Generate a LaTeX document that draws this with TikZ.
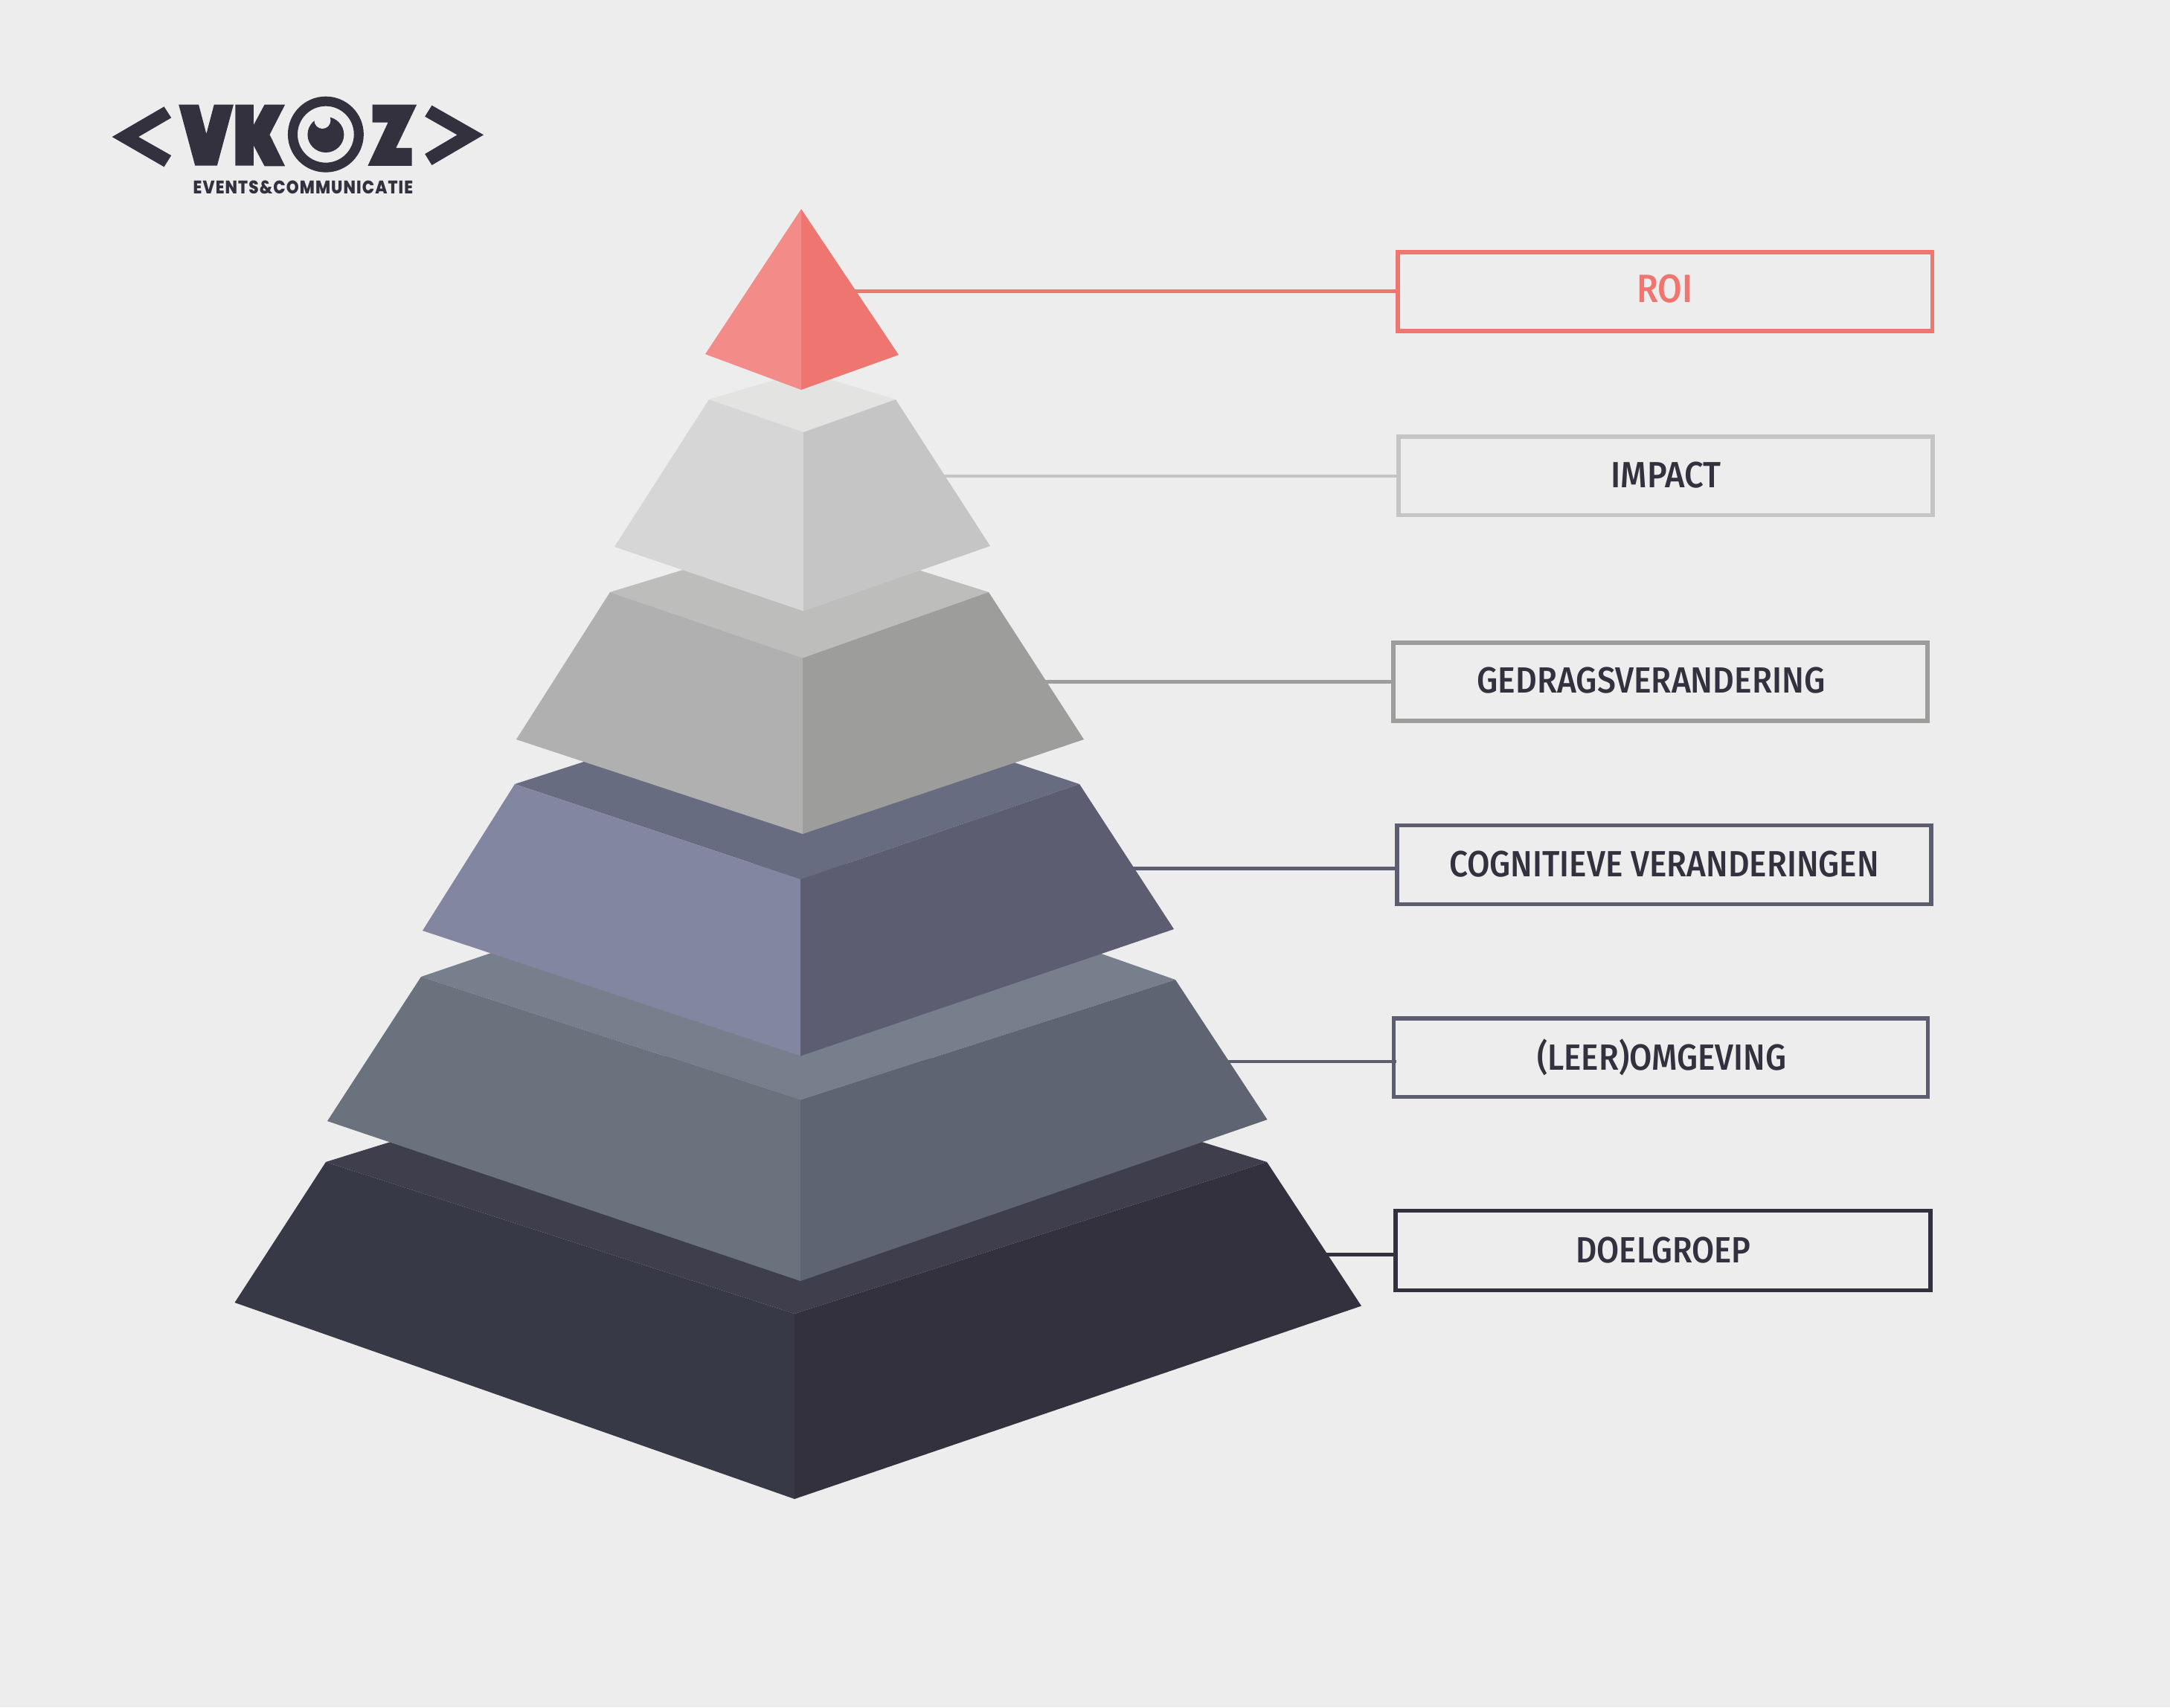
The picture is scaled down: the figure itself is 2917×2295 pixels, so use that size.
\documentclass[tikz,border=0pt]{standalone}
\usepackage{fontspec}
\usepackage{graphicx}
\newfontfamily\lblfont{Fira Sans Medium}
\newfontfamily\logofont{Poppins ExtraBold}[LetterSpace=5]
\definecolor{bgc}{HTML}{EDEDED}
\definecolor{ink}{HTML}{32313D}
\definecolor{roiL}{HTML}{F38B88}\definecolor{roiR}{HTML}{EF7571}
\definecolor{impT}{HTML}{E3E3E1}\definecolor{impL}{HTML}{D6D6D6}\definecolor{impR}{HTML}{C5C5C5}
\definecolor{gedT}{HTML}{BDBDBB}\definecolor{gedL}{HTML}{B0B0B0}\definecolor{gedR}{HTML}{9D9D9B}
\definecolor{cogT}{HTML}{686C80}\definecolor{cogL}{HTML}{8286A0}\definecolor{cogR}{HTML}{5D5D71}
\definecolor{envT}{HTML}{767F8B}\definecolor{envL}{HTML}{6A737D}\definecolor{envR}{HTML}{5F6472}
\definecolor{doeT}{HTML}{3E3E4D}\definecolor{doeL}{HTML}{383946}\definecolor{doeR}{HTML}{32313D}
\newcommand{\lbltext}[3][49]{\resizebox{#2pt}{\height}{\lblfont\fontsize{#1}{52}\selectfont #3}}
\tikzset{
  labelbox/.style={draw=#1,line width=5.5pt,fill=none,inner sep=0pt,outer sep=0pt,rectangle},
  labeltext/.style={anchor=base,inner sep=0pt,outer sep=0pt,text=ink},
  leader/.style={draw=#1,line width=4.5pt},
  logoshape/.style={fill=ink,draw=none}
}
\begin{document}
\begin{tikzpicture}[x=1pt,y=-1pt]
\useasboundingbox (0,0) rectangle (2917,2295);
\fill[bgc] (0,0) rectangle (2917,2295);

% boxes
\node[labelbox=roiR,minimum width=718.5pt,minimum height=106pt] (b1) at (2238.25,392) {};
\node[labelbox=impR,minimum width=718pt,minimum height=105.5pt] (b2) at (2239,639.75) {};
\node[labelbox=gedR,minimum width=718pt,minimum height=105pt] (b3) at (2232,916.5) {};
\node[labelbox=cogR,minimum width=718pt,minimum height=106pt] (b4) at (2237,1162.5) {};
\node[labelbox=cogR,minimum width=718pt,minimum height=105.5pt] (b5) at (2232.5,1421.75) {};
\node[labelbox=doeR,minimum width=719pt,minimum height=107pt] (b6) at (2235.5,1681) {};

% leaders (free ends under the pyramid edge)
\coordinate (c1) at (1140,391.5);
\coordinate (c2) at (1258,640);
\coordinate (c3) at (1395,916.5);
\coordinate (c4) at (1510,1167.5);
\coordinate (c5) at (1640,1427);
\coordinate (c6) at (1770,1686.5);
\draw[leader=roiR] (c1) -- (c1 -| b1.west);
\draw[leader=impR] (c2) -- (c2 -| b2.west);
\draw[leader=gedR] (c3) -- ([xshift=3pt]c3 -| b3.west);
\draw[leader=cogR] (c4) -- (c4 -| b4.west);
\draw[leader=cogR] (c5) -- ([xshift=3pt]c5 -| b5.west);
\draw[leader=doeR] (c6) -- (c6 -| b6.west);

% labels
\node[labeltext,text=roiR] (t1) at (2238,406) {\lbltext[53]{75}{ROI}};
\node[labeltext] (t2) at (2239.5,655) {\lbltext{148}{IMPACT}};
\node[labeltext] (t3) at (2219.5,931.5) {\lbltext{468}{GEDRAGSVERANDERING}};
\node[labeltext] (t4) at (2237,1178.5) {\lbltext{578}{COGNITIEVE VERANDERINGEN}};
\node[labeltext] (t5) at (2233.5,1438) {\lbltext{335}{(LEER)OMGEVING}};
\node[labeltext] (t6) at (2236,1697) {\lbltext{235}{DOELGROEP}};

% pyramid: bottom layer first
\fill[doeT] (438,1562) -- (1068,1366) -- (1703,1562) -- (1068,1766) -- cycle;
\fill[doeL] (438,1562) -- (1068,1766) -- (1068,2015) -- (315.5,1751) -- cycle;
\fill[doeR] (1703,1562) -- (1068,1766) -- (1068,2015) -- (1830,1755.5) -- cycle;

\fill[envT] (566,1313) -- (1076,1140) -- (1580,1317) -- (1076,1479) -- cycle;
\fill[envL] (566,1313) -- (1076,1479) -- (1076,1722) -- (440,1507) -- cycle;
\fill[envR] (1580,1317) -- (1076,1479) -- (1076,1722) -- (1703.5,1505) -- cycle;

\fill[cogT] (692,1054) -- (1076,930) -- (1451,1054) -- (1076,1182) -- cycle;
\fill[cogL] (692,1054) -- (1076,1182) -- (1076,1419.5) -- (568,1251) -- cycle;
\fill[cogR] (1451,1054) -- (1076,1182) -- (1076,1419.5) -- (1578,1249) -- cycle;

\fill[gedT] (820,796) -- (1079,717) -- (1329,796) -- (1079,884.5) -- cycle;
\fill[gedL] (820,796) -- (1079,884.5) -- (1079,1121) -- (694,994) -- cycle;
\fill[gedR] (1329,796) -- (1079,884.5) -- (1079,1121) -- (1457,994) -- cycle;

\fill[impT] (953,537) -- (1080,499) -- (1204,537) -- (1080,581) -- cycle;
\fill[impL] (953,537) -- (1080,581) -- (1080,821.5) -- (826,735) -- cycle;
\fill[impR] (1204,537) -- (1080,581) -- (1080,821.5) -- (1331,734) -- cycle;

\fill[roiL] (1077,281) -- (1077,524) -- (948,476) -- cycle;
\fill[roiR] (1077,281) -- (1077,524) -- (1208,477) -- cycle;

% logo
\begin{scope}[shift={(130,110)},x=0.3444pt,y=-0.3333pt]
\fill[logoshape] (60,222) -- (263,100) -- (291,145) -- (163,222) -- (291,297) -- (263,343) -- cycle;
\fill[logoshape] (1510,214) -- (1308,95) -- (1281,140) -- (1407,214) -- (1281,291) -- (1308,336) -- cycle;
\fill[logoshape] (320,92) -- (398,92) -- (428,210) -- (458,92) -- (534,92) -- (470,338) -- (384,338) -- cycle;
\fill[logoshape] (541,92) -- (612,92) -- (612,175) -- (655,92) -- (735,92) -- (675,213) -- (735,340) -- (655,340) -- (612,256) -- (612,338) -- (541,338) -- cycle;
\fill[logoshape] (1076,92) -- (1249,92) -- (1168,267) -- (1230,267) -- (1230,339) -- (1058,339) -- (1137,164) -- (1076,164) -- cycle;
\fill[logoshape,even odd rule] (894,212) ellipse [x radius=148,y radius=153] (894,212) ellipse [x radius=110,y radius=114];
\fill[logoshape] (894,213) ellipse [x radius=71,y radius=72];
\fill[bgc] (881,155) ellipse [x radius=32,y radius=34];
\end{scope}
\node[anchor=base,inner sep=0pt,outer sep=0pt,text=ink] (t7) at (407.5,260) {\resizebox{295.5pt}{\height}{\logofont\fontsize{24.5}{26}\selectfont EVENTS\&COMMUNICATIE}};
\end{tikzpicture}
\end{document}
